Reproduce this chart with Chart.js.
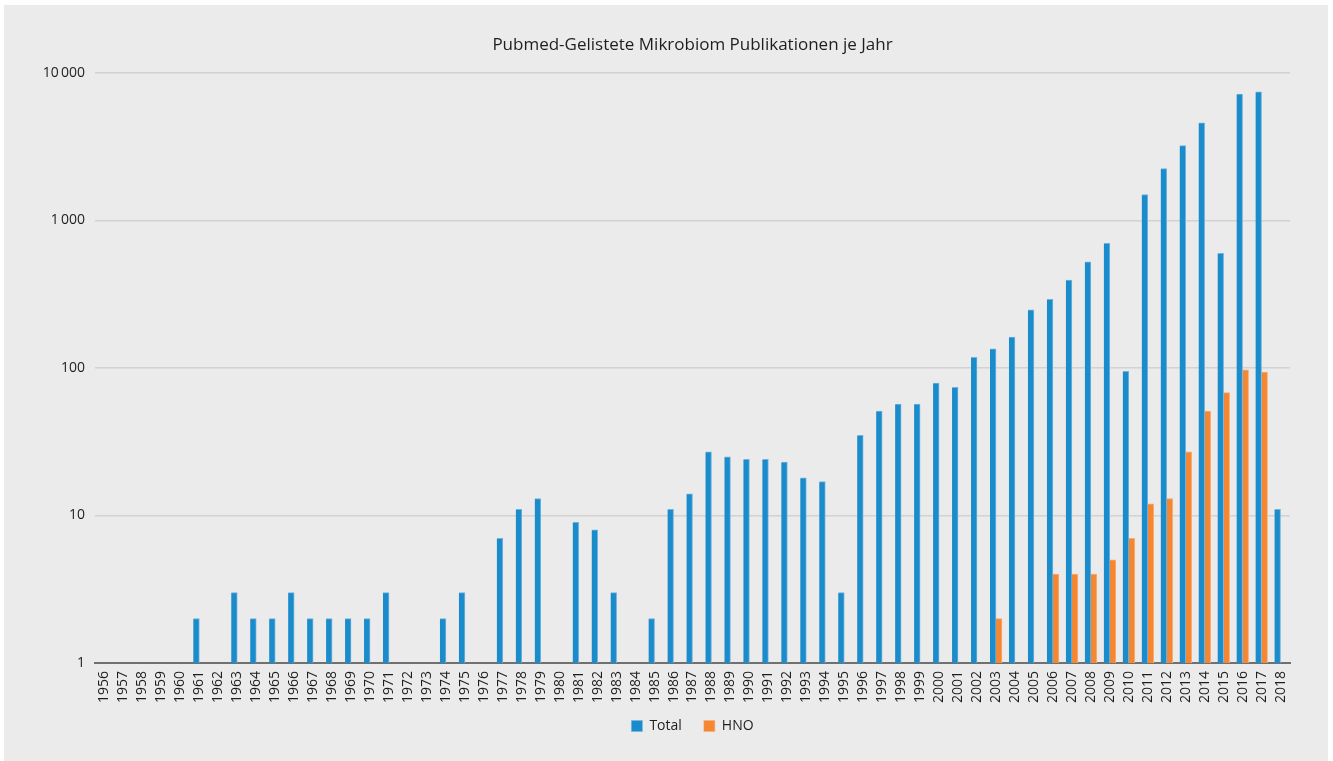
<!DOCTYPE html>
<html>
<head>
<meta charset="utf-8">
<script src="https://cdn.jsdelivr.net/npm/chart.js@4.4.0/dist/chart.umd.min.js"></script>
<style>
  body { margin: 0; background: #ffffff; }
  #panel { position: absolute; left: 4px; top: 5px; width: 1324px; height: 756px; background: #ebebeb; }
</style>
</head>
<body>
<div id="panel"><canvas id="pubChart" width="1324" height="756"></canvas></div>
<script>
// years 1956 - 2018
const years = ["1956","1957","1958","1959","1960","1961","1962","1963","1964","1965",
    "1966","1967","1968","1969","1970","1971","1972","1973","1974","1975",
    "1976","1977","1978","1979","1980","1981","1982","1983","1984","1985",
    "1986","1987","1988","1989","1990","1991","1992","1993","1994","1995",
    "1996","1997","1998","1999","2000","2001","2002","2003","2004","2005",
    "2006","2007","2008","2009","2010","2011","2012","2013","2014","2015",
    "2016","2017","2018"];

// null = no publications (not drawable on log scale)
const totalValues = [null,null,null,null,null,2,null,3,2,2,
    3,2,2,2,2,3,null,null,2,3,
    null,7,11,13,null,9,8,3,null,2,
    11,14,27,25,24,24,23,18,17,3,
    35,51,57,57,79,74,118,135,162,248,
    292,395,525,700,95,1500,2250,3220,4600,600,
    7200,7450,11];

const hnoValues = [null,null,null,null,null,null,null,null,null,null,
    null,null,null,null,null,null,null,null,null,null,
    null,null,null,null,null,null,null,null,null,null,
    null,null,null,null,null,null,null,null,null,null,
    null,null,null,null,null,null,null,2,null,null,
    4,4,4,5,7,12,13,27,51,68,
    97,94,null];

const yTicks = [1,10,100,1000,10000];

const fontName = "'Open Sans', 'Noto Sans', sans-serif";

function formatNumber(v){
    return String(v).replace(/\B(?=(\d{3})+(?!\d))/g, "\u2009");
}

// fixed legend height, and move legend up a bit (labels padding is also the item gap)
const legendFix = {
    id: "legendFix",
    beforeInit(chart){
        const origFit = chart.legend.fit;
        chart.legend.fit = function(){
            origFit.bind(chart.legend)();
            this.height = 54;
        };
    },
    afterLayout(chart){
        chart.legend.top = 692;
    }
};

const ctx = document.getElementById("pubChart").getContext("2d");
new Chart(ctx, {
    type: "bar",
    data: {
        labels: years,
        datasets: [{
            label: "Total",
            data: totalValues,
            backgroundColor: "#1a8bcb",
            borderColor: "#6fb3dd",
            borderWidth: {top: 1, right: 1, left: 0, bottom: 0},
            borderSkipped: "bottom",
            barThickness: 6
        }, {
            label: "HNO",
            data: hnoValues,
            backgroundColor: "#f58632",
            borderColor: "#f8ad74",
            borderWidth: {top: 1, right: 1, left: 0, bottom: 0},
            borderSkipped: "bottom",
            barThickness: 6
        }]
    },
    options: {
        responsive: false,
        animation: false,
        layout: { padding: { left: 0, right: 38, top: 0, bottom: 0 } },
        plugins: {
            title: {
                display: true,
                text: "Pubmed-Gelistete Mikrobiom Publikationen je Jahr",
                color: "#1e1e1e",
                fullSize: false,
                font: { family: fontName, size: 17, weight: "normal" },
                padding: { top: 30, bottom: 17.6 }
            },
            legend: {
                position: "bottom",
                fullSize: false,
                labels: {
                    color: "#1e1e1e",
                    boxWidth: 11,
                    boxHeight: 11,
                    padding: 22,
                    font: { family: fontName, size: 14 }
                }
            },
            tooltip: { enabled: false }
        },
        scales: {
            x: {
                grid: { display: false, drawTicks: false },
                border: { display: true, color: "#707070", width: 2 },
                ticks: {
                    color: "#1e1e1e",
                    autoSkip: false,
                    minRotation: 90,
                    maxRotation: 90,
                    padding: 8,
                    font: { family: fontName, size: 14 }
                },
                afterFit: function(scale){ scale.height = 44; }
            },
            y: {
                type: "logarithmic",
                min: 1,
                max: 10000,
                grid: { color: "#d2d2d2", lineWidth: 1.5, drawTicks: false },
                border: { display: false },
                ticks: {
                    color: "#1e1e1e",
                    padding: 10,
                    font: { family: fontName, size: 14 },
                    callback: function(v){ return formatNumber(v); }
                },
                afterBuildTicks: function(scale){
                    scale.ticks = yTicks.map(v => ({ value: v }));
                },
                afterFit: function(scale){ scale.width = 91; }
            }
        }
    },
    plugins: [legendFix]
});
</script>
</body>
</html>
